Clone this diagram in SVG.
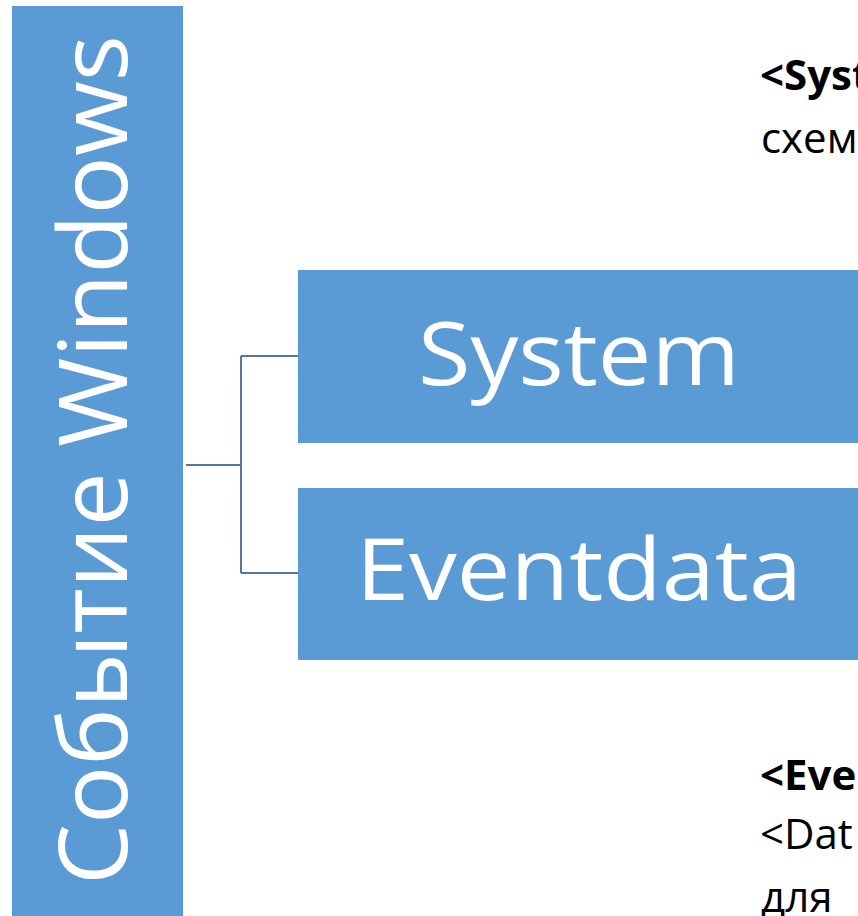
<svg xmlns="http://www.w3.org/2000/svg" width="858" height="916" viewBox="0 0 858 916">
<style>
.box{fill:#5B9BD5}
.lbl{fill:#fff;font-family:"Open Sans","Liberation Sans",sans-serif;font-weight:normal}
.note{fill:#000;font-family:"Open Sans","Liberation Sans",sans-serif;font-size:42px}
.b{font-weight:bold}
.conn{fill:none;stroke:#55779A;stroke-width:2}
</style>
<rect width="858" height="916" fill="#fff"/>
<g id="root">
<rect class="box" x="12" y="6" width="171" height="910"/>
<text class="lbl" transform="translate(127,885) rotate(-90)" font-size="96" textLength="850" lengthAdjust="spacingAndGlyphs">Событие Windows</text>
</g>
<g id="connectors">
<path class="conn" d="M186,465 H241 M241,356 V573 M241,356 H298 M241,573 H298"/>
</g>
<g id="system">
<rect class="box" x="298" y="270" width="560" height="173"/>
<text class="lbl" x="418" y="385" font-size="88" textLength="322" lengthAdjust="spacingAndGlyphs">System</text>
</g>
<g id="eventdata">
<rect class="box" x="298" y="488" width="560" height="172"/>
<text class="lbl" x="356" y="600" font-size="86" textLength="446" lengthAdjust="spacingAndGlyphs">Eventdata</text>
</g>
<g id="notes">
<text class="note b" x="760" y="90">&lt;Syst</text>
<text class="note" x="761" y="153">схем</text>
<text class="note b" x="760" y="790">&lt;Eve</text>
<text class="note" x="760" y="849">&lt;Dat</text>
<text class="note" x="761" y="912">для</text>
</g>
</svg>
